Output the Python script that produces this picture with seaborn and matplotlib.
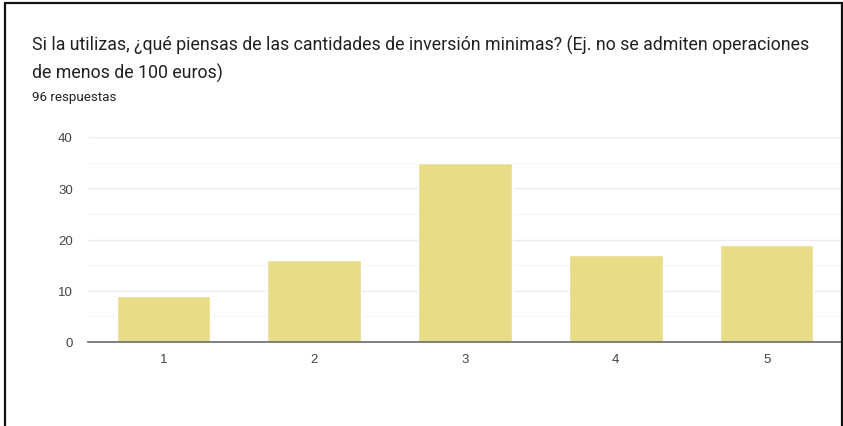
import matplotlib
matplotlib.use("Agg")
import matplotlib.pyplot as plt
import seaborn as sns
import pandas as pd
from matplotlib.patches import Rectangle

# Survey answers: rating scale and number of responses per rating
ratings = ["1", "2", "3", "4", "5"]
counts = [9, 16, 35, 17, 19]
total_label = "96 respuestas"
title_lines = [
    "Si la utilizas, ¿qué piensas de las cantidades de inversión minimas? (Ej. no se admiten operaciones",
    "de menos de 100 euros)",
]

sns.set_theme(style="white")
plt.rcParams["font.family"] = ["Roboto", "DejaVu Sans"]

df = pd.DataFrame({"rating": ratings, "count": counts})

fig = plt.figure(figsize=(8.43, 4.27), dpi=100)
ax = fig.add_axes([88 / 843, 1 - 343 / 427, (842 - 88) / 843, (343 - 138) / 427])

sns.barplot(data=df, x="rating", y="count", color="#e9dc86", saturation=1,
            width=0.62, ax=ax, zorder=3)

ax.set_xlim(-0.5, 4.5)
ax.set_ylim(0, 40)
ax.set_yticks([0, 10, 20, 30, 40])
ax.set_yticks([5, 15, 25, 35], minor=True)
ax.grid(axis="y", which="major", color="#ebebeb", linewidth=1, zorder=0)
ax.grid(axis="y", which="minor", color="#f5f5f5", linewidth=1, zorder=0)
ax.set_xlabel("")
ax.set_ylabel("")
for side in ["top", "right", "left"]:
    ax.spines[side].set_visible(False)
ax.spines["bottom"].set_color("#757575")
ax.spines["bottom"].set_linewidth(1.3)
ax.spines["bottom"].set_zorder(4)
ax.tick_params(axis="both", which="both", length=0, labelsize=9.5, labelcolor="#444444")
ax.tick_params(axis="x", pad=8)
ax.tick_params(axis="y", pad=11)
for lbl in ax.get_xticklabels() + ax.get_yticklabels():
    lbl.set_fontfamily(["Liberation Sans", "DejaVu Sans"])

# Heading block
fig.text(32 / 843, 1 - 45 / 427, title_lines[0], fontsize=12.8, color="#202124",
         va="center", ha="left")
fig.text(32 / 843, 1 - 73 / 427, title_lines[1], fontsize=12.8, color="#202124",
         va="center", ha="left")
fig.text(32 / 843, 1 - 97 / 427, total_label, fontsize=9.6, color="#202124",
         va="center", ha="left")

# Outer frame
fig.add_artist(Rectangle((4.5 / 843, -0.05), (842 - 4.5) / 843, 1.05 - 3.5 / 427,
                         transform=fig.transFigure, fill=False,
                         edgecolor="#111111", linewidth=1.6))

fig.savefig("out.png", dpi=100)
